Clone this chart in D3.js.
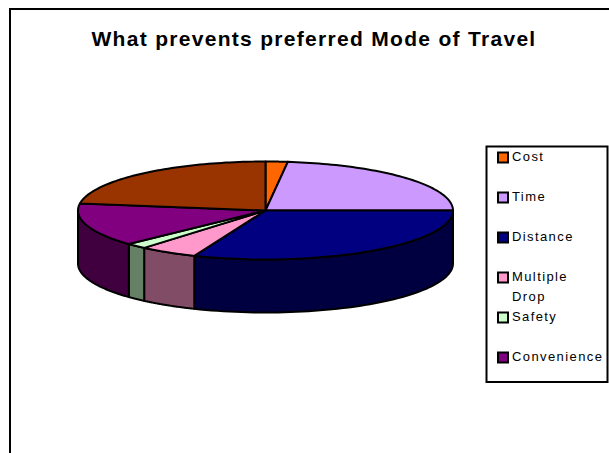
<!DOCTYPE html>
<html><head><meta charset="utf-8">
<script src="https://cdn.jsdelivr.net/npm/d3@7"></script>
<style>html,body{margin:0;padding:0;background:#fff}svg{display:block}</style>
</head><body><svg id="c" width="609" height="453"></svg>
<script>
const titleText = "What prevents preferred Mode of Travel";
const categories = ["Cost","Time","Distance","Multiple Drop","Safety","Convenience","Other"];
const values = [1.9,23.1,31.2,5,1.8,14.3,22.7];
const topColors = ["#ff6600","#cc99ff","#000080","#ff99cc","#ccffcc","#800080","#993300"];
const sideColors = ["#803300","#664c80","#000040","#804c66","#668066","#400040","#4d1a00"];
const legendCats = ["Cost","Time","Distance","Multiple|Drop","Safety","Convenience"];

const svg = d3.select("#c");
const cx=265.5, cy=210.5, rx=187.5, ry=49, depth=53;
// frame
svg.append("path").attr("d","M10,453V9H609").attr("fill","none").attr("stroke","#000").attr("stroke-width",2);
svg.append("text").attr("x",314).attr("y",46).attr("text-anchor","middle")
  .attr("font-family","Liberation Sans").attr("font-weight","bold").attr("font-size",21).attr("letter-spacing",1.3).text(titleText);

const arcs = d3.pie().sort(null)(values);
const yS = d3.scaleLinear().domain([-1,1]).range([cy-ry,cy+ry]);
const xS = d3.scaleLinear().domain([-1,1]).range([cx-rx,cx+rx]);
const px = a=>xS(Math.sin(a)), py = a=>yS(-Math.cos(a));
const rim = (a0,a1,dy,n=60)=>d3.range(n+1).map(i=>{const a=a0+(a1-a0)*i/n;return [px(a),py(a)+dy]});
const line = d3.line();
const walls = svg.append("g"), tops = svg.append("g");
const order = arcs.map((d,i)=>({d,i}));
order.forEach(({d,i})=>{
  const a0=Math.max(d.startAngle,Math.PI/2), a1=Math.min(d.endAngle,Math.PI*1.5);
  if(a1>a0){
    const pts=rim(a0,a1,0).concat(rim(a1,a0,depth));
    walls.append("path").attr("d",line(pts)+"Z").attr("fill",sideColors[i])
      .attr("stroke","#000").attr("stroke-width",2).attr("stroke-linejoin","round");
  }
  const pts=[[cx,cy]].concat(rim(d.startAngle,d.endAngle,0));
  tops.append("path").attr("d",line(pts)+"Z").attr("fill",topColors[i])
    .attr("stroke","#000").attr("stroke-width",2).attr("stroke-linejoin","round");
});
// legend
const lg = svg.append("g");
lg.append("rect").attr("x",486.5).attr("y",146.5).attr("width",121).attr("height",235.5)
  .attr("fill","#fff").attr("stroke","#000").attr("stroke-width",2);
const baselines = [161,201,241,281,321,361];
legendCats.forEach((c,i)=>{
  lg.append("rect").attr("x",498).attr("y",baselines[i]-8.5).attr("width",10).attr("height",10)
    .attr("fill",topColors[i]).attr("stroke","#000").attr("stroke-width",2);
  c.split("|").forEach((t,j)=>{
    lg.append("text").attr("x",512).attr("y",baselines[i]+j*20)
      .attr("font-family","Liberation Sans").attr("font-size",13).attr("letter-spacing",1.4).attr("fill","#000").text(t);
  });
});
</script></body></html>
